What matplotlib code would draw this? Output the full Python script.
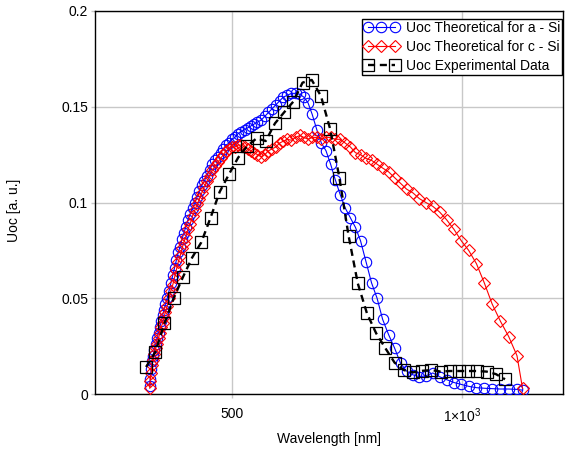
import numpy as np
import matplotlib
matplotlib.use("Agg")
import matplotlib.pyplot as plt
from matplotlib.legend_handler import HandlerLine2D

plt.rcParams["font.family"] = ["Liberation Sans", "DejaVu Sans"]
plt.rcParams["mathtext.fontset"] = "custom"
plt.rcParams["mathtext.rm"] = "Liberation Sans"

# theoretical wavelength grid [nm]
wl_theory = [322, 323, 325, 327, 329, 332, 335, 338, 341, 344, 347, 350, 353, 356,
             360, 364, 368, 372, 376, 380, 384, 388, 392, 396, 400, 405, 410, 415,
             420, 425, 430, 435, 440, 446, 452, 458, 464, 470, 476, 482, 488, 494,
             500, 507, 514, 521, 528, 535, 542, 549, 556, 564, 572, 580, 588, 596,
             604, 612, 621, 630, 639, 648, 657, 666, 675, 685, 695, 705, 715, 725,
             736, 747, 758, 769, 780, 792, 804, 816, 828, 841, 854, 867, 880, 894,
             908, 922, 937, 952, 967, 983, 999, 1015, 1032, 1049, 1066, 1084, 1102,
             1120, 1132]

uoc_asi = [0.004, 0.008, 0.013, 0.017, 0.020, 0.023, 0.026, 0.029, 0.032, 0.035, 0.038,
           0.041, 0.044, 0.047, 0.050, 0.054, 0.058, 0.062, 0.066, 0.070, 0.074, 0.077,
           0.081, 0.084, 0.087, 0.091, 0.094, 0.097, 0.100, 0.103, 0.106, 0.109, 0.111,
           0.114, 0.117, 0.120, 0.122, 0.124, 0.126, 0.128, 0.130, 0.131, 0.133, 0.134,
           0.136, 0.137, 0.138, 0.139, 0.140, 0.141, 0.142, 0.143, 0.145, 0.147, 0.149,
           0.151, 0.153, 0.155, 0.156, 0.157, 0.157, 0.1565, 0.155, 0.152, 0.146, 0.138,
           0.131, 0.127, 0.120, 0.112, 0.104, 0.097, 0.092, 0.087, 0.080, 0.069, 0.058,
           0.050, 0.039, 0.031, 0.024, 0.016, 0.012, 0.010, 0.009, 0.0095, 0.011, 0.009,
           0.0075, 0.006, 0.005, 0.004, 0.0033, 0.003, 0.0028, 0.0026, 0.0026, 0.0024,
           0.002]

uoc_csi = [0.003, 0.007, 0.011, 0.015, 0.018, 0.021, 0.024, 0.026, 0.029, 0.032, 0.035,
           0.037, 0.040, 0.043, 0.046, 0.050, 0.054, 0.057, 0.061, 0.065, 0.069, 0.072,
           0.076, 0.079, 0.082, 0.086, 0.089, 0.093, 0.096, 0.099, 0.102, 0.105, 0.108,
           0.111, 0.114, 0.117, 0.119, 0.121, 0.123, 0.125, 0.127, 0.128, 0.129, 0.129,
           0.130, 0.130, 0.129, 0.128, 0.127, 0.126, 0.125, 0.124, 0.125, 0.127, 0.128,
           0.129, 0.131, 0.132, 0.133, 0.1325, 0.134, 0.135, 0.134, 0.133, 0.134, 0.134,
           0.133, 0.134, 0.134, 0.133, 0.133, 0.131, 0.129, 0.126, 0.125, 0.123, 0.122,
           0.120, 0.118, 0.116, 0.113, 0.110, 0.107, 0.105, 0.102, 0.100, 0.098, 0.095,
           0.091, 0.086, 0.080, 0.075, 0.068, 0.058, 0.047, 0.038, 0.030, 0.020, 0.003]

# measured points
wl_exp = [314, 334, 354, 374, 394, 414, 434, 454, 474, 494, 514, 534, 554, 574,
          594, 614, 634, 654, 674, 694, 714, 734, 754, 774, 794, 814, 834, 854,
          874, 894, 914, 934, 954, 974, 994, 1014, 1034, 1054, 1074, 1094]
uoc_exp = [0.0141, 0.0219, 0.0369, 0.050, 0.061, 0.0712, 0.0792, 0.092, 0.1056, 0.1147,
           0.1234, 0.1295, 0.1335, 0.1321, 0.1413, 0.1471, 0.1527, 0.1626, 0.164, 0.1556,
           0.1384, 0.113, 0.0827, 0.0578, 0.0421, 0.0317, 0.0239, 0.0164, 0.0125, 0.0113,
           0.0121, 0.0125, 0.0117, 0.012, 0.012, 0.012, 0.012, 0.0117, 0.0104, 0.0077]

x_ticks = [500, 1000]
x_tick_labels = ["500", r"1$\times$10$^{3}$"]
y_ticks = [0, 0.05, 0.1, 0.15, 0.2]
y_tick_labels = ["0", "0.05", "0.1", "0.15", "0.2"]

fig = plt.figure(figsize=(5.65, 4.53), dpi=100)
ax = fig.add_axes([95 / 565, 1 - 394 / 453, 468 / 565, 383 / 453])

ax.plot(wl_theory, uoc_asi, color="#0000ff", lw=0.8, marker="o", ms=7.5,
        mfc="none", mec="#0000ff", mew=0.8, label="Uoc Theoretical for a - Si", zorder=3)
ax.plot(wl_theory, uoc_csi, color="#ff0000", lw=0.8, marker="D", ms=6,
        mfc="none", mec="#ff0000", mew=0.8, label="Uoc Theoretical for c - Si", zorder=3)
exp_line, = ax.plot(wl_exp, uoc_exp, color="black", lw=1.7, ls=(0, (3, 2)), marker="s",
                    ms=9, mfc="none", mec="black", mew=0.9,
                    label="Uoc Experimental Data", zorder=4)

ax.set_xlim(203, 1220)
ax.set_ylim(0, 0.2)
ax.set_xticks(x_ticks)
ax.set_xticklabels(x_tick_labels)
ax.set_yticks(y_ticks)
ax.set_yticklabels(y_tick_labels)
ax.grid(True, color="#c8c8c8", lw=1)
ax.set_axisbelow(True)
ax.tick_params(axis="both", labelsize=10, length=3, color="#c8c8c8", width=1)
ax.tick_params(axis="x", pad=6)
ax.tick_params(axis="y", pad=2)
for sp in ax.spines.values():
    sp.set_color("black")
    sp.set_linewidth(1)

ax.set_xlabel("Wavelength [nm]", fontsize=10, labelpad=5)
ax.set_ylabel("Uoc [a. u.]", fontsize=10)
ax.yaxis.set_label_coords(-0.158, 0.48)

leg = fig.legend(loc="upper left", bbox_to_anchor=(362 / 565, 1 - 19 / 453),
                 borderaxespad=0, fontsize=10, numpoints=3, handlelength=2.5,
                 handletextpad=0.5, borderpad=0.15, labelspacing=0.36,
                 fancybox=False, framealpha=1, edgecolor="black",
                 handler_map={exp_line: HandlerLine2D(numpoints=2)})
leg.get_frame().set_linewidth(1)

fig.savefig("out.png", dpi=100)
